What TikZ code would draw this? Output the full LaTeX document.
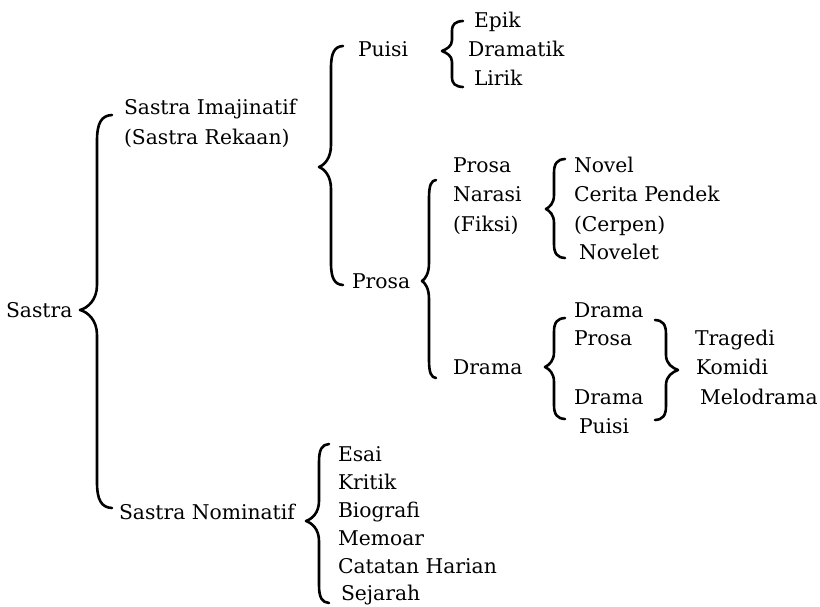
\documentclass[tikz,border=0pt]{standalone}
\usepackage{fontspec}
\setmainfont{DejaVu Serif}
\tikzset{
  lbl/.style={anchor=base west, inner sep=0pt, outer sep=0pt, font=\fontsize{20.3}{24}\selectfont},
  bracestyle/.style={line width=2.6pt, line cap=round, line join=round}
}
% brace: #1 x of ends, #2 y top, #3 x vertical, #4 x tip, #5 y tip, #6 y bottom, #7 hook length, #8 tip length
\newcommand\lbr[8]{%
  \draw[bracestyle] (#1,#2) .. controls ({#3+0.3*(#1-#3)},#2+0.5) and (#3,{#2+0.3*#7}) .. (#3,#2+#7)
    -- (#3,#5-#8) .. controls (#3,{#5-0.4*#8}) and ({#4+0.45*(#3-#4)},#5-2) .. (#4,#5)
    .. controls ({#4+0.45*(#3-#4)},#5+2) and (#3,{#5+0.4*#8}) .. (#3,#5+#8)
    -- (#3,#6-#7) .. controls (#3,{#6-0.3*#7}) and ({#3+0.3*(#1-#3)},#6-0.5) .. (#1,#6);}
\begin{document}
\begin{tikzpicture}[x=1pt,y=-1pt]
\useasboundingbox (0,0) rectangle (820,607);
% texts
\node[lbl] (sastra) at (6,317) {Sastra};
\node[lbl] (imaj1) at (124,115) {Sastra Imajinatif};
\node[lbl] (imaj2) at (124,145) {(Sastra Rekaan)};
\node[lbl] (nomin) at (119,519) {Sastra Nominatif};
\node[lbl] (puisi) at (358,57) {Puisi};
\node[lbl] (prosa) at (352,288) {Prosa};
\node[lbl] (epik) at (474,28) {Epik};
\node[lbl] (dramatik) at (468,57) {Dramatik};
\node[lbl] (lirik) at (474,86) {Lirik};
\node[lbl] (pn1) at (453,173) {Prosa};
\node[lbl] (pn2) at (453,202) {Narasi};
\node[lbl] (pn3) at (453,231) {(Fiksi)};
\node[lbl] (drama) at (453,374) {Drama};
\node[lbl] (novel) at (574,173) {Novel};
\node[lbl] (cerita) at (574,202) {Cerita Pendek};
\node[lbl] (cerpen) at (574,231) {(Cerpen)};
\node[lbl] (novelet) at (579,259) {Novelet};
\node[lbl] (dp1) at (574,317) {Drama};
\node[lbl] (dp2) at (574,345) {Prosa};
\node[lbl] (dq1) at (574,404) {Drama};
\node[lbl] (dq2) at (579,433) {Puisi};
\node[lbl] (tragedi) at (695,345) {Tragedi};
\node[lbl] (komidi) at (696,374) {Komidi};
\node[lbl] (melo) at (700,404) {Melodrama};
\node[lbl] (esai) at (338,461) {Esai};
\node[lbl] (kritik) at (338,489) {Kritik};
\node[lbl] (bio) at (338,517) {Biografi};
\node[lbl] (memoar) at (338,545) {Memoar};
\node[lbl] (catatan) at (338,573) {Catatan Harian};
\node[lbl] (sejarah) at (341,600) {Sejarah};
% braces
\lbr{112}{115}{97}{80}{310}{508}{26}{25}
\lbr{343}{46}{331}{319}{167}{285}{22}{22}
\lbr{463}{21}{452}{442}{51}{87}{10}{11}
\lbr{436}{180}{429}{422}{281}{378}{18}{18}
\lbr{565}{159}{554}{546}{209}{258}{14}{14}
\lbr{565}{318}{554}{545}{367}{419}{14}{15}
\lbr{655}{320}{666}{678}{370}{420}{14}{15}
\lbr{329}{444}{319}{306}{521}{603}{18}{20}
\end{tikzpicture}
\end{document}
